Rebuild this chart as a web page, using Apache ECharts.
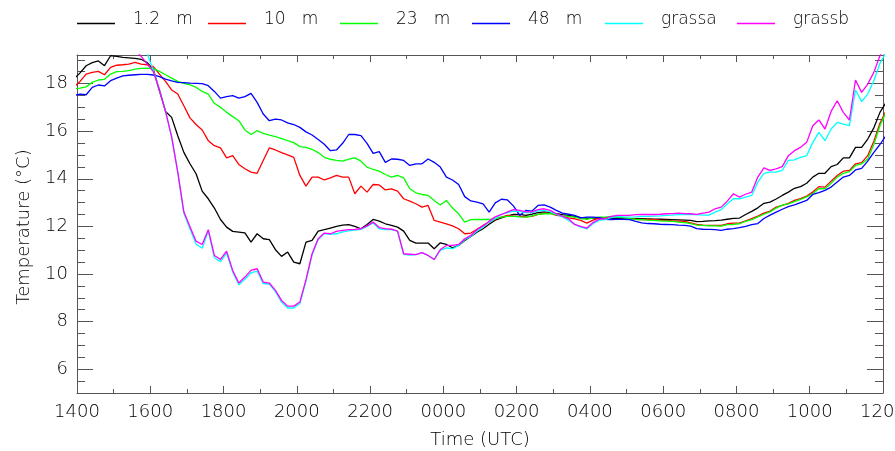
<!DOCTYPE html>
<html>
<head>
<meta charset="utf-8">
<script src="https://cdn.jsdelivr.net/npm/echarts@6/dist/echarts.min.js"></script>
<style>html,body{margin:0;padding:0;background:#fff;}#c{width:895px;height:451px;}</style>
</head>
<body>
<div id="c"></div>
<script>
// Sampling grid: 10-minute values, first at 13:55 (hours since 14:00)
const startHours = -5 / 60;
const stepHours = 10 / 60;

const seriesNames = ['1.2 m', '10 m', '23 m', '48 m', 'grassa', 'grassb'];
const seriesColors = ['#000000', '#ff0000', '#00ff00', '#0000ff', '#00ffff', '#ff00ff'];

const yMajorTicks = [6, 8, 10, 12, 14, 16, 18];

const t1p2m = [
 18.2, 18.45, 18.75, 18.88, 18.95, 18.75, 19.17, 19.14, 19.1, 19.08,
 19.06, 19.02, 18.88, 18.6, 17.7, 16.83, 16.58, 15.81, 15.11, 14.63,
 14.21, 13.48, 13.16, 12.77, 12.29, 11.97, 11.79, 11.76, 11.73, 11.34,
 11.69, 11.48, 11.44, 11.02, 10.74, 10.92, 10.5, 10.43, 11.34, 11.41,
 11.8, 11.86, 11.93, 12.0, 12.05, 12.07, 12.0, 11.9, 12.08, 12.29,
 12.22, 12.11, 12.04, 11.97, 11.8, 11.41, 11.3, 11.3, 11.3, 11.06,
 11.31, 11.24, 11.1, 11.2, 11.41, 11.58, 11.76, 11.9, 12.09, 12.26,
 12.36, 12.44, 12.5, 12.5, 12.46, 12.51, 12.58, 12.61, 12.58, 12.53,
 12.49, 12.46, 12.42, 12.37, 12.35, 12.35, 12.34, 12.33, 12.33, 12.34,
 12.33, 12.33, 12.32, 12.32, 12.31, 12.3, 12.3, 12.29, 12.28, 12.27,
 12.26, 12.25, 12.2, 12.21, 12.23, 12.24, 12.26, 12.3, 12.34, 12.35,
 12.5, 12.63, 12.78, 12.97, 13.02, 13.15, 13.3, 13.44, 13.6, 13.67,
 13.81, 14.07, 14.23, 14.23, 14.51, 14.6, 14.88, 14.88, 15.32, 15.32,
 15.67, 16.14, 16.79, 17.2
];

const t10m = [
 17.85, 18.09, 18.4, 18.47, 18.51, 18.37, 18.68, 18.77, 18.79, 18.82,
 18.89, 18.82, 18.79, 18.71, 18.4, 18.09, 17.73, 17.56, 17.07, 16.56,
 16.28, 16.05, 15.6, 15.39, 15.3, 14.88, 14.97, 14.6, 14.42, 14.28,
 14.23, 14.77, 15.3, 15.21, 15.1, 15.0, 14.9, 14.14, 13.69, 14.07,
 14.07, 13.95, 14.04, 14.14, 14.07, 14.07, 13.37, 13.69, 13.44, 13.76,
 13.74, 13.53, 13.58, 13.48, 13.16, 13.06, 12.95, 12.81, 12.88, 12.25,
 12.18, 12.11, 12.02, 11.9, 11.69, 11.72, 11.88, 12.04, 12.18, 12.3,
 12.39, 12.46, 12.43, 12.42, 12.4, 12.42, 12.5, 12.56, 12.56, 12.46,
 12.43, 12.36, 12.32, 12.25, 12.14, 12.26, 12.35, 12.37, 12.39, 12.39,
 12.36, 12.32, 12.3, 12.29, 12.29, 12.29, 12.26, 12.25, 12.23, 12.22,
 12.21, 12.15, 12.08, 12.05, 12.04, 12.04, 12.04, 12.11, 12.14, 12.14,
 12.23, 12.33, 12.43, 12.56, 12.64, 12.81, 12.88, 12.97, 13.09, 13.17,
 13.27, 13.44, 13.67, 13.65, 13.9, 14.14, 14.32, 14.35, 14.63, 14.68,
 14.97, 15.58, 16.33, 16.86
];

const t23m = [
 17.78, 17.81, 17.86, 18.05, 18.15, 18.18, 18.4, 18.5, 18.51, 18.54,
 18.61, 18.64, 18.65, 18.63, 18.51, 18.37, 18.23, 18.09, 18.01, 17.95,
 17.84, 17.67, 17.56, 17.17, 17.0, 16.79, 16.61, 16.44, 16.05, 15.86,
 16.02, 15.91, 15.83, 15.77, 15.69, 15.6, 15.52, 15.35, 15.32, 15.24,
 15.1, 14.9, 14.82, 14.77, 14.74, 14.83, 14.88, 14.74, 14.49, 14.39,
 14.32, 14.18, 14.07, 14.14, 14.04, 13.58, 13.41, 13.34, 13.3, 13.09,
 12.9, 13.09, 12.77, 12.53, 12.18, 12.28, 12.29, 12.29, 12.29, 12.33,
 12.39, 12.42, 12.42, 12.4, 12.39, 12.44, 12.5, 12.53, 12.54, 12.49,
 12.44, 12.42, 12.39, 12.33, 12.29, 12.36, 12.39, 12.39, 12.42, 12.39,
 12.36, 12.32, 12.29, 12.28, 12.26, 12.25, 12.23, 12.22, 12.21, 12.18,
 12.16, 12.12, 12.05, 12.04, 12.02, 12.02, 12.01, 12.07, 12.08, 12.11,
 12.21, 12.28, 12.4, 12.51, 12.61, 12.77, 12.89, 12.95, 13.04, 13.13,
 13.24, 13.37, 13.59, 13.58, 13.81, 14.07, 14.23, 14.3, 14.56, 14.63,
 14.83, 15.44, 16.23, 16.79
];

const t48m = [
 17.5, 17.56, 17.53, 17.84, 17.94, 17.9, 18.12, 18.23, 18.32, 18.35,
 18.37, 18.39, 18.39, 18.36, 18.29, 18.19, 18.11, 18.05, 18.04, 18.02,
 18.01, 18.0, 17.91, 17.67, 17.39, 17.45, 17.49, 17.39, 17.45, 17.59,
 17.21, 16.72, 16.44, 16.51, 16.47, 16.35, 16.28, 16.16, 15.97, 15.84,
 15.65, 15.45, 15.18, 15.21, 15.49, 15.86, 15.86, 15.81, 15.49, 15.07,
 15.14, 14.69, 14.83, 14.82, 14.77, 14.56, 14.63, 14.63, 14.83, 14.69,
 14.49, 14.07, 13.95, 13.76, 13.25, 13.07, 13.02, 12.95, 12.6, 12.99,
 13.14, 13.11, 12.85, 12.46, 12.67, 12.64, 12.88, 12.9, 12.81, 12.67,
 12.56, 12.51, 12.46, 12.36, 12.39, 12.39, 12.37, 12.3, 12.29, 12.3,
 12.3, 12.28, 12.21, 12.15, 12.12, 12.11, 12.09, 12.08, 12.07, 12.05,
 12.04, 12.01, 11.91, 11.88, 11.87, 11.86, 11.83, 11.88, 11.91, 11.95,
 12.0, 12.07, 12.12, 12.33, 12.47, 12.6, 12.72, 12.83, 12.9, 13.0,
 13.09, 13.34, 13.42, 13.51, 13.65, 13.86, 14.07, 14.14, 14.37, 14.44,
 14.74, 15.11, 15.44, 15.81
];

const tGrassA = [
 21.0, 21.0, 21.0, 21.0, 21.0, 21.0, 21.0, 21.0, 21.0, 21.0,
 21.0, 20.8, 19.25, 18.55, 17.74, 16.83, 15.76, 14.28, 12.55, 11.9,
 11.25, 11.08, 11.8, 10.68, 10.52, 10.88, 10.08, 9.55, 9.78, 10.05,
 10.12, 9.6, 9.58, 9.26, 8.82, 8.57, 8.57, 8.76, 9.7, 10.8,
 11.45, 11.7, 11.66, 11.69, 11.77, 11.81, 11.84, 11.87, 12.0, 12.14,
 11.9, 11.86, 11.86, 11.8, 10.82, 10.79, 10.81, 10.9, 10.78, 10.61,
 10.99, 11.1, 11.06, 11.2, 11.45, 11.58, 11.8, 11.97, 12.18, 12.32,
 12.5, 12.58, 12.64, 12.63, 12.58, 12.58, 12.65, 12.67, 12.61, 12.51,
 12.4, 12.25, 12.08, 11.97, 11.9, 12.11, 12.25, 12.28, 12.37, 12.42,
 12.4, 12.39, 12.4, 12.42, 12.42, 12.43, 12.44, 12.46, 12.47, 12.5,
 12.5, 12.5, 12.49, 12.47, 12.47, 12.6, 12.7, 12.95, 13.16, 13.16,
 13.23, 13.3, 13.86, 14.23, 14.28, 14.28, 14.35, 14.77, 14.79, 14.9,
 14.97, 15.53, 15.95, 15.6, 16.09, 16.37, 16.3, 16.23, 17.73, 17.24,
 17.56, 18.12, 18.85, 19.3
];

const tGrassB = [
 20.0, 20.0, 20.0, 20.0, 20.0, 20.0, 20.0, 20.0, 20.0, 19.7,
 19.42, 19.15, 18.82, 18.5, 17.74, 16.83, 15.76, 14.28, 12.61, 11.98,
 11.38, 11.24, 11.86, 10.78, 10.61, 10.96, 10.15, 9.62, 9.87, 10.15,
 10.22, 9.66, 9.62, 9.31, 8.89, 8.65, 8.65, 8.82, 9.76, 10.85,
 11.48, 11.72, 11.69, 11.79, 11.83, 11.86, 11.87, 11.9, 12.02, 12.18,
 11.95, 11.91, 11.88, 11.8, 10.85, 10.83, 10.81, 10.9, 10.78, 10.61,
 11.03, 11.2, 11.2, 11.24, 11.48, 11.62, 11.86, 12.02, 12.22, 12.4,
 12.5, 12.61, 12.7, 12.67, 12.61, 12.61, 12.7, 12.74, 12.67, 12.53,
 12.42, 12.32, 12.08, 12.0, 11.93, 12.16, 12.3, 12.33, 12.42, 12.46,
 12.46, 12.46, 12.49, 12.5, 12.5, 12.5, 12.51, 12.53, 12.54, 12.56,
 12.54, 12.53, 12.5, 12.56, 12.6, 12.74, 12.81, 13.06, 13.37, 13.23,
 13.35, 13.44, 14.07, 14.46, 14.35, 14.42, 14.51, 14.97, 15.18, 15.32,
 15.53, 16.23, 16.47, 16.09, 16.83, 17.28, 16.79, 16.47, 18.15, 17.63,
 17.98, 18.47, 19.17, 19.6
];

const seriesValues = [t1p2m, t10m, t23m, t48m, tGrassA, tGrassB];

function pairs(vals) {
  return vals.map((v, i) => [startHours + i * stepHours, v]);
}
function timeLabel(h) {
  const hh = (14 + Math.round(h)) % 24;
  return String(hh * 100).padStart(4, '0');
}

const FONT = '"DejaVu Sans"';
const FW = 200;
const axisGray = '#555555';
const textCol = '#000000';

const chart = echarts.init(document.getElementById('c'), null, {renderer: 'canvas'});

const xBase = {
  type: 'value', min: 0, max: 22, interval: 2,
  axisLine: {show: true, lineStyle: {color: axisGray, width: 1}},
  axisTick: {show: true, inside: true, length: 7, lineStyle: {color: axisGray}},
  minorTick: {show: true, splitNumber: 2, length: 4, lineStyle: {color: axisGray}},
  splitLine: {show: false},
  minorSplitLine: {show: false}
};
const yBase = {
  type: 'value', min: 5, max: 19.2, interval: 0.5,
  splitLine: {show: false},
  axisLabel: {show: false}
};

// legend sample line drawn near the bottom of its icon box (like a text baseline)
const legendIcon = 'path://M0,0L0.01,0L0.01,0.01Z M0,8L38,8L38,9.5L0,9.5Z';

const legends = seriesNames.map((n, i) => ({
  data: [n],
  left: [77, 208, 340, 472, 605, 737][i],
  top: 11,
  padding: 0,
  icon: legendIcon,
  itemWidth: 38,
  itemHeight: 9.5,
  selectedMode: false,
  formatter: nm => nm.replace(' ', '   '),
  textStyle: {fontFamily: FONT, fontSize: 17, fontWeight: FW, color: textCol, padding: [0, 0, 0, 13]}
}));

chart.setOption({
  animation: false,
  backgroundColor: '#ffffff',
  legend: legends,
  grid: {left: 77, right: 12, top: 55, bottom: 58, containLabel: false, outerBoundsMode: 'none'},
  xAxis: [
    Object.assign({}, xBase, {
      position: 'bottom',
      axisLabel: {formatter: timeLabel, fontFamily: FONT, fontSize: 18, fontWeight: FW, color: textCol, margin: 10, hideOverlap: false},
      name: 'Time (UTC)', nameLocation: 'middle', nameGap: 38,
      nameTextStyle: {fontFamily: FONT, fontSize: 18, fontWeight: FW, color: textCol}
    }),
    Object.assign({}, xBase, {position: 'top', axisLabel: {show: false}})
  ],
  yAxis: [
    Object.assign({}, yBase, {
      position: 'left',
      axisLine: {show: true, lineStyle: {color: axisGray, width: 1}},
      axisTick: {show: true, inside: true, length: 16, customValues: yMajorTicks, lineStyle: {color: axisGray}},
      axisLabel: {show: true, customValues: yMajorTicks, fontFamily: FONT, fontSize: 18, fontWeight: FW, color: textCol, margin: 9},
      name: 'Temperature (°C)', nameLocation: 'middle', nameGap: 44, nameRotate: 90,
      nameTextStyle: {fontFamily: FONT, fontSize: 18, fontWeight: FW, color: textCol, padding: [0, 6, 0, 0]}
    }),
    Object.assign({}, yBase, {
      position: 'left',
      axisLine: {show: false},
      axisTick: {show: true, inside: true, length: 8, lineStyle: {color: axisGray}}
    }),
    Object.assign({}, yBase, {
      position: 'right',
      axisLine: {show: true, lineStyle: {color: axisGray, width: 1}},
      axisTick: {show: true, inside: true, length: 16, customValues: yMajorTicks, lineStyle: {color: axisGray}}
    }),
    Object.assign({}, yBase, {
      position: 'right',
      axisLine: {show: false},
      axisTick: {show: true, inside: true, length: 8, lineStyle: {color: axisGray}}
    })
  ],
  series: seriesNames.map((n, i) => ({
    name: n,
    type: 'line',
    xAxisIndex: 0,
    yAxisIndex: 0,
    data: pairs(seriesValues[i]),
    symbol: 'none',
    clip: true,
    lineStyle: {color: seriesColors[i], width: 1.3},
    itemStyle: {color: seriesColors[i]},
    emphasis: {disabled: true}
  }))
});
</script>
</body>
</html>
